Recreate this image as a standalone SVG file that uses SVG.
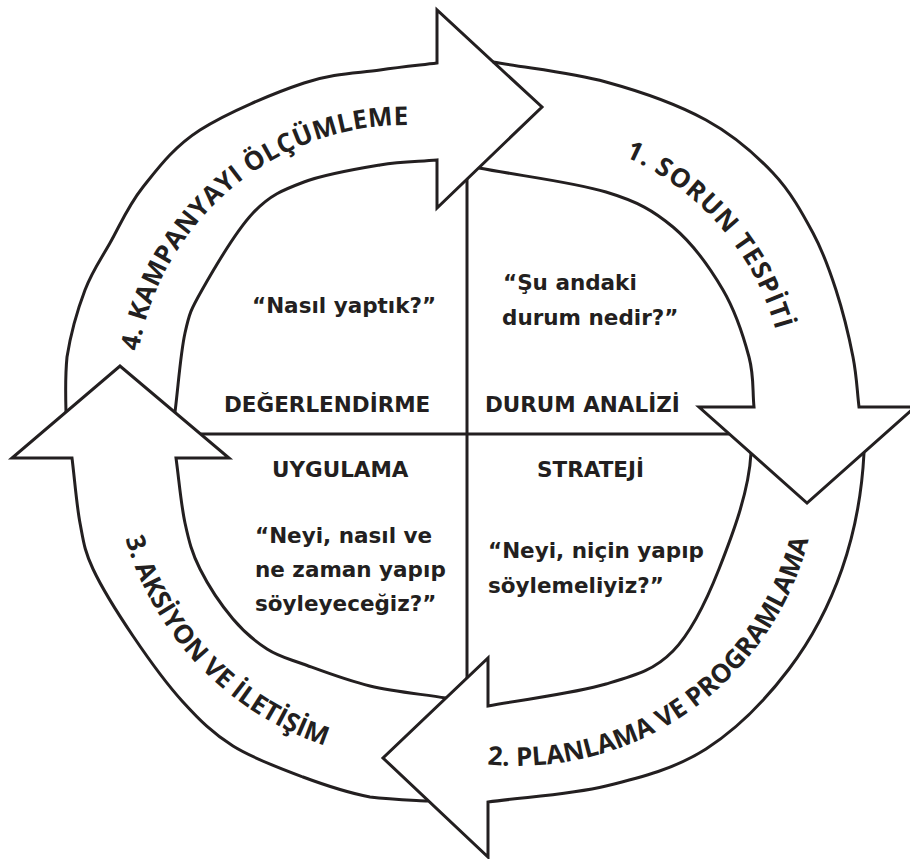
<svg xmlns="http://www.w3.org/2000/svg" xmlns:xlink="http://www.w3.org/1999/xlink" width="910" height="859" viewBox="0 0 910 859">
  <style>
    .edge { fill: none; stroke: #231f20; stroke-width: 3; stroke-linejoin: miter; stroke-miterlimit: 10; }
    .cross { fill: none; stroke: #231f20; stroke-width: 3; }
    .q { font-family: "DejaVu Sans", "Liberation Sans", sans-serif; font-weight: bold; font-size: 21.5px; fill: #231f20; }
    .c { font-family: "Open Sans", "DejaVu Sans", sans-serif; font-weight: 700; font-size: 26px; fill: #231f20; }
  </style>
  <defs>
    <path id="p4" d="M 171.3 531.5 A 271 271 0 0 1 580.2 188.4"/>
    <path id="p1" d="M 378.5 172.4 A 269 269 0 0 1 726 572.3"/>
    <path id="p2" d="M 304.2 677.8 A 301 301 0 0 0 789.8 337.8"/>
    <path id="p3" d="M 171.8 272 A 308 308 0 0 0 593.2 708.3"/>
  </defs>
  <rect width="910" height="859" fill="#ffffff"/>

  <g id="connectors">
    <g id="arrow-1">
      <path class="edge" d="M 493 62 C 530.7 68.7 570.5 72.3 606 82 C 641.5 91.7 678.2 104.8 706 120 C 733.8 135.2 755.2 154.2 773 173 C 790.8 191.8 802.5 213.5 813 233 C 823.5 252.5 829.3 269.3 836 290 C 842.7 310.7 849.2 337.5 853 357 C 856.8 376.5 857 390.3 859 407 L 915 407 L 807 503 L 699 407 L 754 407 C 752.3 390.3 754.2 376.5 749 357 C 743.8 337.5 735.7 311.7 723 290 C 710.3 268.3 692.5 243.3 673 227 C 653.5 210.7 638.3 201.8 606 192 C 573.7 182.2 521.3 176 479 168"/>
      <text class="c" letter-spacing="1.1"><textPath xlink:href="#p1" href="#p1" startOffset="50%" text-anchor="middle">1. SORUN TESPİTİ</textPath></text>
    </g>
    <g id="arrow-2">
      <path class="edge" d="M 864 453 C 862 492 854.5 533 842 569 C 829.5 605 811.7 639 789 669 C 766.3 699 736.5 729.5 706 749 C 675.5 768.5 642.3 777.2 606 786 C 569.7 794.8 527.3 796.7 488 802 L 488 857 L 383 758 L 488 658 L 488 706 C 527.3 698.7 575.2 693.2 606 684 C 636.8 674.8 654.2 670.2 673 651 C 691.8 631.8 706 602 719 569 C 732 536 749 492 751 453"/>
      <text class="c"><textPath xlink:href="#p2" href="#p2" startOffset="50%" text-anchor="middle">2. PLANLAMA VE PROGRAMLAMA</textPath></text>
    </g>
    <g id="arrow-3">
      <path class="edge" d="M 428 801 C 409 800 390 799.5 370 797 C 349.2 793 325.8 785.5 303 777 C 280.2 768.5 253 758.5 233 746 C 213 733.5 199.7 720.3 183 702 C 166.3 683.7 148 658.2 133 636 C 118 613.8 101.8 587.8 93 569 C 84.2 550.2 83.5 541.5 80 523 C 76.5 504.5 74.7 479.7 72 458 L 12 458 L 120 366 L 229 458 L 176 458 C 179 479.7 181 504.5 185 523 C 189 541.5 192 553 200 569 C 208 585 221.8 605.7 233 619 C 244.2 632.3 255.3 641.5 267 649 C 278.7 656.5 285.8 657.8 303 664 C 320.2 670.2 346.2 680.3 370 686 C 393.8 691.7 420.7 694 446 698"/>
      <text class="c"><textPath xlink:href="#p3" href="#p3" startOffset="50%" text-anchor="middle">3. AKSİYON VE İLETİŞİM</textPath></text>
    </g>
    <g id="arrow-4">
      <path class="edge" d="M 66 412 C 65.5 393 65 377 67 357 C 70.2 336.7 77.8 309 85 290 C 92.2 271 100.3 260.2 110 243 C 119.7 225.8 128 205.8 143 187 C 158 168.2 173.2 147.3 200 130 C 226.8 112.7 274 93 304 83 C 334 73 357.8 73.3 380 70 C 402.2 66.7 418 65.3 437 63 L 437 10 L 542 107 L 437 208 L 437 160 C 418 161.7 402.2 161.3 380 165 C 357.8 168.7 325.2 174 304 182 C 282.8 190 270 195 253 213 C 236 231 213.3 270 202 290 C 190.7 310 189.5 312.7 185 333 C 180.5 353.3 178.3 385.7 175 412"/>
      <text class="c" letter-spacing="0.4"><textPath xlink:href="#p4" href="#p4" startOffset="50%" text-anchor="middle">4. KAMPANYAYI ÖLÇÜMLEME</textPath></text>
    </g>
    <g id="cross-lines">
      <line class="cross" x1="467" y1="179" x2="467" y2="678"/>
      <line class="cross" x1="201" y1="434" x2="729" y2="434"/>
    </g>
  </g>

  <g id="node-degerlendirme">
    <text class="q" x="252" y="313">“Nasıl yaptık?”</text>
    <text class="q" x="224" y="412">DEĞERLENDİRME</text>
  </g>
  <g id="node-durum-analizi">
    <text class="q" x="503" y="290">“Şu andaki</text>
    <text class="q" x="502" y="325">durum nedir?”</text>
    <text class="q" x="485" y="412">DURUM ANALİZİ</text>
  </g>
  <g id="node-uygulama">
    <text class="q" x="272" y="477">UYGULAMA</text>
    <text class="q" x="255" y="543">“Neyi, nasıl ve</text>
    <text class="q" x="255" y="577">ne zaman yapıp</text>
    <text class="q" x="255" y="611">söyleyeceğiz?”</text>
  </g>
  <g id="node-strateji">
    <text class="q" x="537" y="477">STRATEJİ</text>
    <text class="q" x="488" y="558">“Neyi, niçin yapıp</text>
    <text class="q" x="488" y="593">söylemeliyiz?”</text>
  </g>
</svg>
